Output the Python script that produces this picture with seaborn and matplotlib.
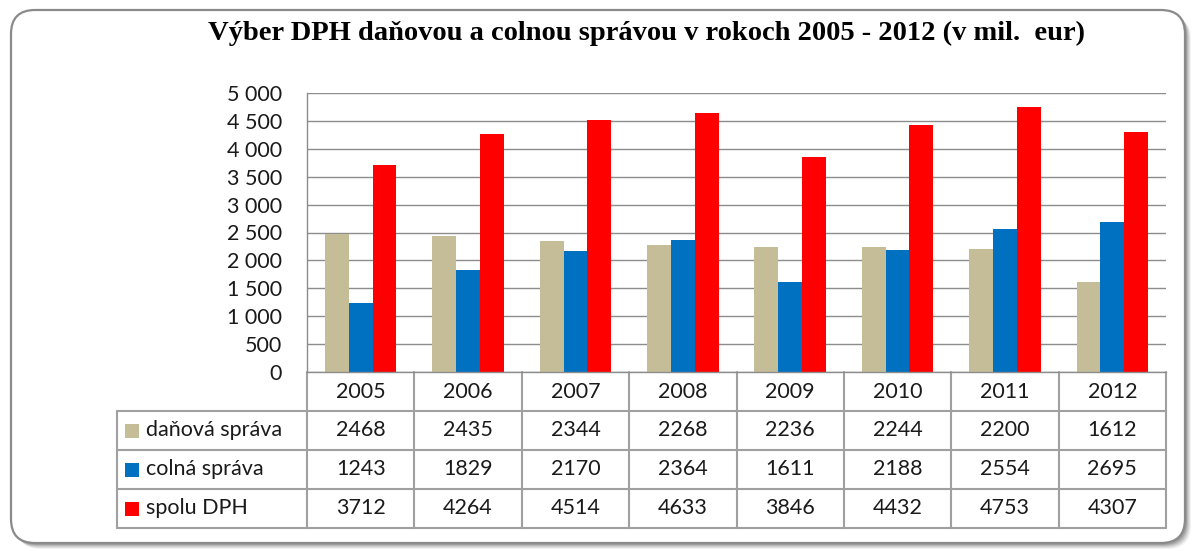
import matplotlib
matplotlib.use("Agg")
import matplotlib.pyplot as plt
import matplotlib.transforms as mtransforms
from matplotlib.patches import FancyBboxPatch, Rectangle
import seaborn as sns
import pandas as pd

years = ["2005", "2006", "2007", "2008", "2009", "2010", "2011", "2012"]
series_names = ["daňová správa", "colná správa", "spolu DPH"]
danova = [2468, 2435, 2344, 2268, 2236, 2244, 2200, 1612]
colna = [1243, 1829, 2170, 2364, 1611, 2188, 2554, 2695]
spolu = [3712, 4264, 4514, 4633, 3846, 4432, 4753, 4307]
colors = ["#C4BD97", "#0070C0", "#FF0000"]
yticks = [0, 500, 1000, 1500, 2000, 2500, 3000, 3500, 4000, 4500, 5000]
title = "Výber DPH daňovou a colnou správou v rokoch 2005 - 2012 (v mil.  eur)"

values = [danova, colna, spolu]
df = pd.DataFrame({
    "year": [y for s in values for y in years],
    "series": [n for n, s in zip(series_names, values) for _ in s],
    "value": [v for s in values for v in s],
})

sns.set_theme(style="white")
plt.rcParams["font.family"] = ["Lato", "DejaVu Sans"]

FS = 15.5
W, H = 1195, 551
fig = plt.figure(figsize=(W / 100, H / 100), dpi=100)
fig.patch.set_facecolor("white")

# background frame axes in pixel units
bg = fig.add_axes([0, 0, 1, 1], zorder=-5)
bg.set_xlim(0, W)
bg.set_ylim(H, 0)
bg.axis("off")
for off, a in [(6, 0.08), (5, 0.10), (4, 0.13), (3, 0.17), (2, 0.22)]:
    bg.add_patch(FancyBboxPatch((11 + off, 10 + off), 1174, 533,
                                boxstyle="round,pad=0,rounding_size=24",
                                fc="#505050", ec="none", alpha=a))
bg.add_patch(FancyBboxPatch((11, 10), 1174, 533,
                            boxstyle="round,pad=0,rounding_size=24",
                            fc="white", ec="#8a8a8a", lw=1.6))

L, R, T, B = 307, 1166, 93, 372
ax = fig.add_axes([L / W, 1 - B / H, (R - L) / W, (B - T) / H])
ax.set_facecolor("none")
sns.barplot(data=df, x="year", y="value", hue="series", order=years,
            hue_order=series_names, palette=colors, width=0.667,
            saturation=1, linewidth=0, ax=ax, legend=False)
ax.set_xlim(-0.5, len(years) - 0.5)
ax.set_ylim(0, 5000)
ax.set_yticks(yticks)
ax.set_yticklabels([f"{v:,}".replace(",", " ") for v in yticks],
                   fontsize=FS, color="#1a1a1a")
ax.tick_params(axis="y", length=0, pad=18)
ax.set_xticks([])
ax.set_xlabel("")
ax.set_ylabel("")
ax.yaxis.grid(True, color="#8c8c8c", lw=1)
ax.set_axisbelow(True)
for s in ["top", "right"]:
    ax.spines[s].set_visible(False)
for s in ["left", "bottom"]:
    ax.spines[s].set_color("#8c8c8c")
    ax.spines[s].set_linewidth(1)

# data table under the axis
trans = mtransforms.blended_transform_factory(ax.transData, ax.transAxes)
px_x = 1 / ((R - L) / len(years))
rh = 39 / (B - T)
n = len(years)
leg_left = -0.5 - 190 * px_x
lc = "#a0a0a0"
lw = 1.5
for i in range(n + 1):
    ax.plot([i - 0.5, i - 0.5], [0, -4 * rh], color=lc, lw=lw,
            transform=trans, clip_on=False)
ax.plot([leg_left, leg_left], [-rh, -4 * rh], color=lc, lw=lw,
        transform=trans, clip_on=False)
for r in range(1, 5):
    ax.plot([leg_left, n - 0.5], [-r * rh, -r * rh], color=lc, lw=lw,
            transform=trans, clip_on=False)

for i, y in enumerate(years):
    ax.text(i, -0.5 * rh, y, ha="center", va="center", fontsize=FS,
            color="#1a1a1a", transform=trans)
for r, (name, vals, c) in enumerate(zip(series_names, values, colors)):
    yc = -(r + 1.5) * rh
    for i, v in enumerate(vals):
        ax.text(i, yc, str(v), ha="center", va="center", fontsize=FS,
                color="#1a1a1a", transform=trans)
    sq = 14
    ax.add_patch(Rectangle((leg_left + 8 * px_x, yc - (sq / 2) / (B - T)),
                           sq * px_x, sq / (B - T), fc=c, ec="none",
                           transform=trans, clip_on=False))
    ax.text(leg_left + 29 * px_x, yc, name, ha="left", va="center",
            fontsize=FS, color="#1a1a1a", transform=trans)

fig.text(646 / W, 1 - 33 / H, title, ha="center", va="center",
         family=["Liberation Serif", "DejaVu Serif"], weight="bold",
         fontsize=20.5, color="black")

fig.savefig("out.png", dpi=100)
